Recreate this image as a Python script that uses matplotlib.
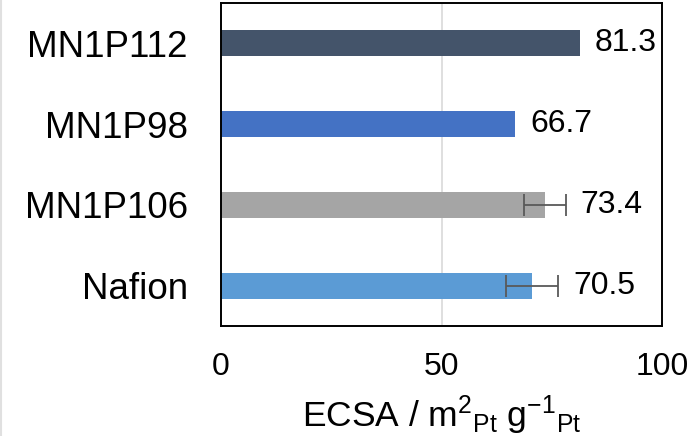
import matplotlib
matplotlib.use('Agg')
import matplotlib.pyplot as plt
from matplotlib.lines import Line2D

samples = ['MN1P112', 'MN1P98', 'MN1P106', 'Nafion']
ecsa = [81.3, 66.7, 73.4, 70.5]
ecsa_err = [0.0, 0.0, 4.8, 5.9]
colors = ['#44546A', '#4472C4', '#A5A5A5', '#5B9BD5']

plt.rcParams['font.family'] = ['Liberation Sans', 'DejaVu Sans']
plt.rcParams['mathtext.fontset'] = 'custom'
plt.rcParams['mathtext.rm'] = 'Liberation Sans'
plt.rcParams['mathtext.it'] = 'Liberation Sans'

fig = plt.figure(figsize=(6.97, 4.36), dpi=100)
ax = fig.add_axes([221 / 697, 1 - 326 / 436, 441 / 697, 323 / 436])

ypos = list(range(len(samples)))
ax.barh(ypos, ecsa, height=0.32, color=colors, zorder=2)
for y, v, e in zip(ypos, ecsa, ecsa_err):
    if e > 0:
        ax.errorbar(v, y, xerr=e, fmt='none', ecolor='#595959',
                    elinewidth=1.3, capsize=8, capthick=1.3, zorder=3)
    ax.text(v + e + 3.4, y, f'{v:.1f}', va='center', ha='left', fontsize=23)

ax.axvline(50, color='#D9D9D9', linewidth=1.2, zorder=1)

ax.set_xlim(0, 100)
ax.set_ylim(3.5, -0.5)
ax.set_xticks([0, 50, 100])
ax.set_yticks(ypos)
ax.set_yticklabels(samples)
ax.tick_params(axis='y', length=0, pad=24, labelsize=26.5)
ax.tick_params(axis='x', length=0, pad=19, labelsize=23)
for s in ax.spines.values():
    s.set_linewidth(1.4)
    s.set_color('black')

ax.set_xlabel(r'ECSA / m$^{2}$$_{\mathrm{Pt}}$ g$^{-1}$$_{\mathrm{Pt}}$',
              fontsize=25.5, labelpad=8)

# faint frame line at the left edge of the original image
fig.add_artist(Line2D([0.002, 0.002], [0, 1], color='#E0E0E0', linewidth=1.5,
                      transform=fig.transFigure))

fig.savefig('out.png', dpi=100)
